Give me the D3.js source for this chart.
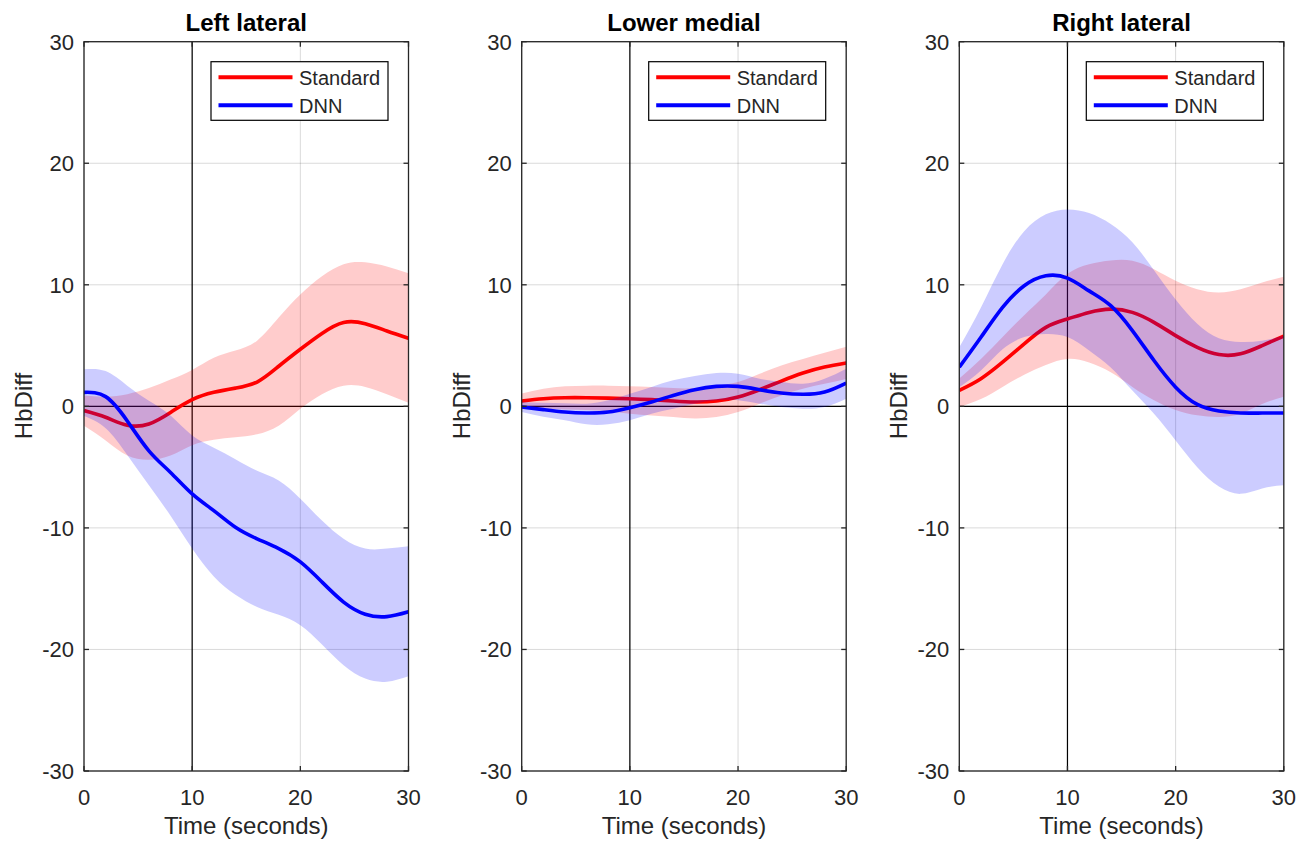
<!DOCTYPE html>
<html>
<head>
<meta charset="utf-8">
<script src="https://cdn.jsdelivr.net/npm/d3@7"></script>
<style>
  html, body { margin: 0; padding: 0; background: #fff; }
  svg { display: block; font-family: "Liberation Sans", Arial, Helvetica, sans-serif; }
</style>
</head>
<body>
<svg id="chart" width="1311" height="842"></svg>
<script>
// ---- data ----
const time = [0, 2, 4, 6, 8, 10, 12, 14, 16, 18, 20, 22, 24, 26, 28, 30];
const xTicks = [0, 10, 20, 30];
const yTicks = [-30, -20, -10, 0, 10, 20, 30];
const panelTitles = ["Left lateral", "Lower medial", "Right lateral"];
const seriesNames = ["Standard", "DNN"];

// Left lateral
const leftStdMean = [-0.35, -0.9, -1.55, -1.45, -0.5, 0.55, 1.15, 1.5, 2.0, 3.3, 4.7, 6.0, 6.9, 6.8, 6.2, 5.6];
const leftStdHi   = [0.9, 0.8, 1.0, 1.5, 2.2, 3.0, 4.0, 4.6, 5.4, 7.3, 9.2, 10.7, 11.7, 11.85, 11.5, 10.95];
const leftStdLo   = [-1.6, -2.8, -4.05, -4.4, -4.05, -3.2, -2.75, -2.55, -2.3, -1.6, -0.2, 1.0, 1.7, 1.6, 1.0, 0.3];
const leftDnnMean = [1.15, 0.8, -1.2, -3.66, -5.44, -7.2, -8.58, -9.95, -10.9, -11.7, -12.8, -14.45, -16.1, -17.1, -17.3, -16.9];
const leftDnnHi   = [3.05, 2.9, 1.7, 0.46, -0.76, -2.4, -3.4, -4.35, -5.3, -6.1, -7.6, -9.4, -10.9, -11.7, -11.7, -11.5];
const leftDnnLo   = [-0.8, -1.8, -4.0, -6.5, -9.0, -11.7, -14.0, -15.5, -16.5, -17.15, -18.0, -19.6, -21.3, -22.4, -22.65, -22.2];

// Lower medial
const medStdMean = [0.44, 0.63, 0.71, 0.71, 0.68, 0.63, 0.55, 0.44, 0.36, 0.44, 0.77, 1.37, 2.08, 2.74, 3.23, 3.56];
const medStdHi   = [1.05, 1.45, 1.65, 1.7, 1.7, 1.65, 1.6, 1.5, 1.5, 1.7, 2.0, 2.68, 3.37, 3.9, 4.4, 4.9];
const medStdLo   = [-0.19, -0.2, -0.25, -0.3, -0.4, -0.6, -0.75, -0.88, -1.0, -0.88, -0.47, 0.22, 0.9, 1.45, 1.86, 2.25];
const medDnnMean = [-0.05, -0.27, -0.47, -0.55, -0.47, -0.11, 0.36, 0.9, 1.37, 1.64, 1.64, 1.37, 1.1, 0.99, 1.18, 1.92];
const medDnnHi   = [0.36, 0.3, 0.25, 0.22, 0.5, 1.04, 1.6, 2.14, 2.5, 2.74, 2.68, 2.27, 2.0, 1.86, 2.27, 3.1];
const medDnnLo   = [-0.47, -0.85, -1.15, -1.48, -1.48, -1.15, -0.6, -0.19, 0.22, 0.5, 0.5, 0.22, -0.05, -0.19, -0.05, 0.63];

// Right lateral
const rightStdMean = [1.31, 2.27, 3.63, 5.14, 6.5, 7.19, 7.73, 8.0, 7.73, 6.91, 5.82, 4.86, 4.26, 4.32, 5.0, 5.77];
const rightStdHi   = [2.3, 3.9, 5.7, 7.5, 9.2, 10.9, 11.7, 12.0, 11.97, 11.28, 10.33, 9.64, 9.37, 9.64, 10.19, 10.66];
const rightStdLo   = [-0.05, 0.6, 1.6, 2.6, 3.4, 3.9, 3.6, 2.8, 1.6, 0.5, -0.3, -0.74, -0.87, -0.6, 0.2, 0.8];
const rightDnnMean = [3.22, 5.68, 8.14, 9.92, 10.74, 10.55, 9.5, 8.28, 6.23, 3.77, 1.58, 0.16, -0.38, -0.55, -0.55, -0.55];
const rightDnnHi   = [4.86, 8.14, 11.7, 14.4, 15.8, 16.2, 15.9, 15.0, 13.5, 11.2, 8.8, 6.8, 5.6, 5.3, 5.4, 5.8];
const rightDnnLo   = [1.58, 2.95, 4.7, 5.7, 5.96, 5.7, 4.6, 3.2, 1.3, -0.6, -2.8, -5.0, -6.6, -7.2, -6.75, -6.5];

const panels = [
  { title: panelTitles[0], series: [
    { name: seriesNames[0], mean: leftStdMean, lo: leftStdLo, hi: leftStdHi },
    { name: seriesNames[1], mean: leftDnnMean, lo: leftDnnLo, hi: leftDnnHi } ] },
  { title: panelTitles[1], series: [
    { name: seriesNames[0], mean: medStdMean, lo: medStdLo, hi: medStdHi },
    { name: seriesNames[1], mean: medDnnMean, lo: medDnnLo, hi: medDnnHi } ] },
  { title: panelTitles[2], series: [
    { name: seriesNames[0], mean: rightStdMean, lo: rightStdLo, hi: rightStdHi },
    { name: seriesNames[1], mean: rightDnnMean, lo: rightDnnLo, hi: rightDnnHi } ] }
];

// ---- layout / style ----
const colors = ["#ff0000", "#0000ff"];
const panelLeft = [84, 521.7, 959.3];
const panelW = 324.5;
const plotTop = 41.7, plotBottom = 771;
const axisColor = "#262626";

const svg = d3.select("#chart");

panels.forEach((p, pi) => {
  const x0 = panelLeft[pi];
  const x = d3.scaleLinear().domain([0, 30]).range([x0, x0 + panelW]);
  const y = d3.scaleLinear().domain([-30, 30]).range([plotBottom, plotTop]);
  const g = svg.append("g");

  const clipId = "clip" + pi;
  svg.append("clipPath").attr("id", clipId).append("rect")
    .attr("x", x0).attr("y", plotTop).attr("width", panelW).attr("height", plotBottom - plotTop);

  // grid
  const grid = g.append("g").attr("stroke", "#000").attr("stroke-opacity", 0.15).attr("stroke-width", 1);
  xTicks.forEach(t => grid.append("line").attr("x1", x(t)).attr("x2", x(t)).attr("y1", plotTop).attr("y2", plotBottom));
  yTicks.forEach(t => grid.append("line").attr("x1", x0).attr("x2", x0 + panelW).attr("y1", y(t)).attr("y2", y(t)));

  // reference lines (x = 10, y = 0)
  g.append("line").attr("x1", x(10)).attr("x2", x(10)).attr("y1", plotTop).attr("y2", plotBottom)
    .attr("stroke", "#000").attr("stroke-width", 1.2);
  g.append("line").attr("x1", x0).attr("x2", x0 + panelW).attr("y1", y(0)).attr("y2", y(0))
    .attr("stroke", "#000").attr("stroke-width", 1.2);

  const plot = g.append("g").attr("clip-path", `url(#${clipId})`);
  const curve = d3.curveNatural;
  p.series.forEach((s, si) => {
    const rows = time.map((t, i) => ({ t, m: s.mean[i], lo: s.lo[i], hi: s.hi[i] }));
    const area = d3.area().x(d => x(d.t)).y0(d => y(d.lo)).y1(d => y(d.hi)).curve(curve);
    const line = d3.line().x(d => x(d.t)).y(d => y(d.m)).curve(curve);
    plot.append("path").attr("d", area(rows)).attr("fill", colors[si]).attr("fill-opacity", 0.2).attr("stroke", "none");
    plot.append("path").attr("d", line(rows)).attr("fill", "none").attr("stroke", colors[si])
      .attr("stroke-width", 3.6).attr("stroke-linejoin", "round");
  });

  // box
  g.append("rect").attr("x", x0).attr("y", plotTop).attr("width", panelW).attr("height", plotBottom - plotTop)
    .attr("fill", "none").attr("stroke", axisColor).attr("stroke-width", 1.3);

  // ticks (inside, all four sides)
  const tl = 5;
  const tk = g.append("g").attr("stroke", axisColor).attr("stroke-width", 1.3);
  xTicks.forEach(t => {
    tk.append("line").attr("x1", x(t)).attr("x2", x(t)).attr("y1", plotBottom).attr("y2", plotBottom - tl);
    tk.append("line").attr("x1", x(t)).attr("x2", x(t)).attr("y1", plotTop).attr("y2", plotTop + tl);
  });
  yTicks.forEach(t => {
    tk.append("line").attr("x1", x0).attr("x2", x0 + tl).attr("y1", y(t)).attr("y2", y(t));
    tk.append("line").attr("x1", x0 + panelW).attr("x2", x0 + panelW - tl).attr("y1", y(t)).attr("y2", y(t));
  });

  // tick labels
  xTicks.forEach(t => g.append("text").attr("x", x(t)).attr("y", 805)
    .attr("text-anchor", "middle").attr("font-size", 22).attr("fill", axisColor).text(t));
  yTicks.forEach(t => g.append("text").attr("x", x0 - 10).attr("y", y(t)).attr("dy", "0.36em")
    .attr("text-anchor", "end").attr("font-size", 22).attr("fill", axisColor).text(t));

  // axis labels
  g.append("text").attr("x", x0 + panelW / 2).attr("y", 834).attr("text-anchor", "middle")
    .attr("font-size", 24).attr("fill", axisColor).text("Time (seconds)");
  g.append("text").attr("transform", `translate(${x0 - 52},406) rotate(-90)`).attr("text-anchor", "middle")
    .attr("font-size", 24).attr("fill", axisColor).text("HbDiff");

  // title
  g.append("text").attr("x", x0 + panelW / 2).attr("y", 31).attr("text-anchor", "middle")
    .attr("font-size", 24).attr("font-weight", "bold").attr("fill", "#000").text(p.title);

  // legend
  const lx = x0 + panelW - 197.5, ly = 61.7;
  const lg = g.append("g");
  lg.append("rect").attr("x", lx).attr("y", ly).attr("width", 177).attr("height", 58.6)
    .attr("fill", "#fff").attr("stroke", "#000").attr("stroke-width", 1.2);
  seriesNames.forEach((n, i) => {
    const yy = ly + 15.5 + i * 28;
    lg.append("line").attr("x1", lx + 7.5).attr("x2", lx + 81.5).attr("y1", yy).attr("y2", yy)
      .attr("stroke", colors[i]).attr("stroke-width", 4);
    lg.append("text").attr("x", lx + 88).attr("y", yy + 1).attr("dy", "0.35em")
      .attr("font-size", 20).attr("fill", axisColor).text(n);
  });
});
</script>
</body>
</html>
